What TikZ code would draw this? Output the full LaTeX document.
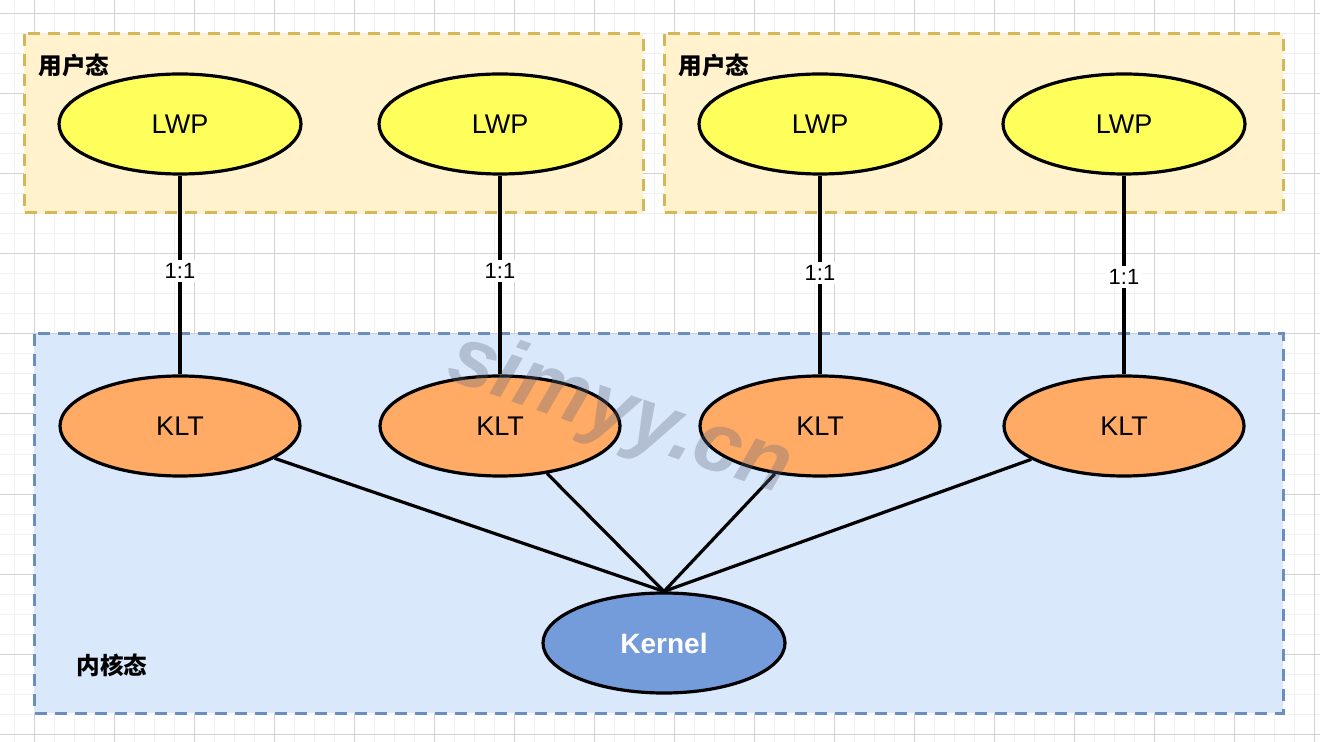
\documentclass[tikz,border=0pt]{standalone}
\usepackage{fontspec}
\setmainfont{Liberation Sans}
\newfontfamily\cjk{Noto Sans CJK SC}
\usetikzlibrary{shapes.geometric}
\definecolor{userfill}{HTML}{FFF2CC}
\definecolor{userdraw}{HTML}{D6B656}
\definecolor{kernfill}{HTML}{DAE8FC}
\definecolor{kerndraw}{HTML}{6C8EBF}
\definecolor{lwpfill}{HTML}{FFFF5C}
\definecolor{kltfill}{HTML}{FFAB66}
\definecolor{kernelfill}{HTML}{749CDA}
\definecolor{gridminor}{HTML}{F0F0F0}
\definecolor{gridmajor}{HTML}{D2D2D2}
\definecolor{wmark}{HTML}{60667A}

\begin{document}
\begin{tikzpicture}[x=0.5pt,y=-0.5pt,
  lwp/.style={ellipse,draw,line width=1.6pt,fill=lwpfill,minimum width=121pt,minimum height=50pt,font=\fontsize{13.5}{15}\selectfont},
  klt/.style={ellipse,draw,line width=1.6pt,fill=kltfill,minimum width=120pt,minimum height=50pt,font=\fontsize{13.5}{15}\selectfont},
  zone/.style={line width=1.5pt,dash pattern=on 6pt off 4pt},
  zonelabel/.style={anchor=west,inner sep=0pt,font=\cjk\bfseries\fontsize{11.8}{13}\selectfont},
  link/.style={line width=1.6pt},
  ratio/.style={fill=white,inner sep=1.5pt,font=\fontsize{11}{13}\selectfont}]
  \useasboundingbox (0,0) rectangle (1320,742);
  \fill[white] (0,0) rectangle (1320,742);
  \foreach \i in {14,34,...,1320} \draw[gridminor,line width=0.5pt] (\i,0) -- (\i,742);
  \foreach \j in {14,34,...,742} \draw[gridminor,line width=0.5pt] (0,\j) -- (1320,\j);
  \foreach \i in {34,114,...,1320} \draw[gridmajor,line width=0.5pt] (\i,0) -- (\i,742);
  \foreach \j in {14,94,...,742} \draw[gridmajor,line width=0.5pt] (0,\j) -- (1320,\j);

  \draw[zone,draw=userdraw,fill=userfill] (24,34) rectangle (643,213);
  \draw[zone,draw=userdraw,fill=userfill] (664,34) rectangle (1283,213);
  \draw[zone,draw=kerndraw,fill=kernfill] (34,334) rectangle (1283,713);
  \node[zonelabel] (u1) at (38,65) {用户态};
  \node[zonelabel] (u2) at (678,65) {用户态};
  \node[zonelabel] (kz) at (76,665) {内核态};

  \node[lwp] (l1) at (180,124) {LWP};
  \node[lwp] (l2) at (500,124) {LWP};
  \node[lwp] (l3) at (820,124) {LWP};
  \node[lwp] (l4) at (1124,124) {LWP};
  \node[klt] (k1) at (180,426) {KLT};
  \node[klt] (k2) at (500,426) {KLT};
  \node[klt] (k3) at (820,426) {KLT};
  \node[klt] (k4) at (1124,426) {KLT};
  \node[ellipse,draw,line width=1.6pt,fill=kernelfill,minimum width=121pt,minimum height=50pt,
    text=white,font=\bfseries\fontsize{14}{16}\selectfont] (kern) at (664,643) {Kernel};

  \draw[link] (l1) -- node[ratio,pos=0.48] {1:1} (k1);
  \draw[link] (l2) -- node[ratio,pos=0.48] {1:1} (k2);
  \draw[link] (l3) -- node[ratio,pos=0.49] {1:1} (k3);
  \draw[link] (l4) -- node[ratio,pos=0.51] {1:1} (k4);
  \draw[link] (k1) -- (kern.north);
  \draw[link] (k2) -- (kern.north);
  \draw[link] (k3) -- (kern.north);
  \draw[link] (k4) -- (kern.north);

  \node[rotate=-19,text=wmark,opacity=0.32,font=\bfseries\itshape\fontsize{42}{42}\selectfont] (wm) at (620,416) {simyy.cn};
\end{tikzpicture}
\end{document}
